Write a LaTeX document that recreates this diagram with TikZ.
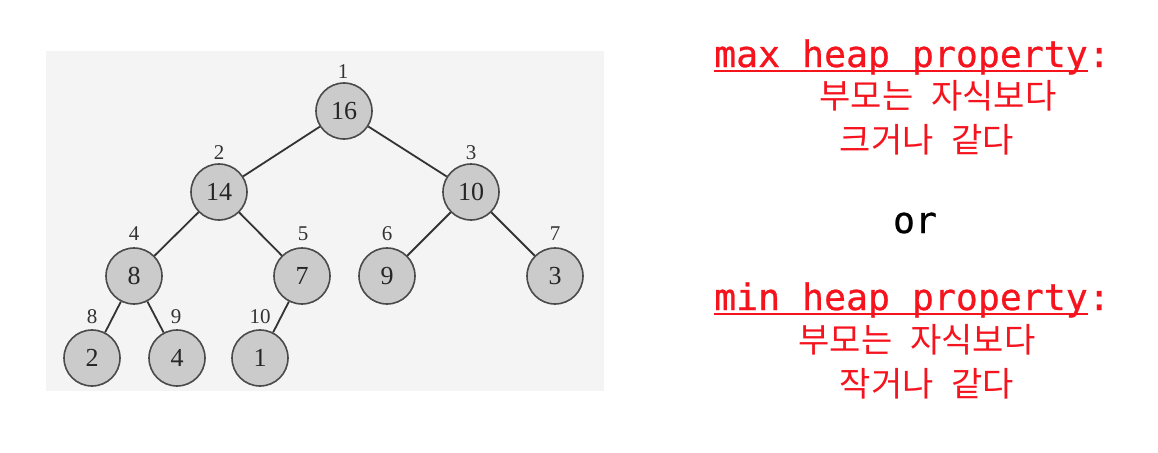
\documentclass[tikz,border=0pt]{standalone}
\usepackage{fontspec}
\setmainfont{Liberation Serif}
\newfontfamily\monof[FakeBold=0.7]{DejaVu Sans Mono}
\newfontfamily\krf{Noto Sans CJK KR}
\definecolor{panelbg}{HTML}{F4F4F4}
\definecolor{nodefill}{HTML}{CBCBCB}
\definecolor{nodeedge}{HTML}{4A4A4A}
\definecolor{edgecol}{HTML}{333333}
\definecolor{txtred}{HTML}{F5141E}
\begin{document}
\begin{tikzpicture}[x=1pt,y=-1pt,
  heapnode/.style={circle,draw=nodeedge,line width=1.6pt,fill=nodefill,minimum size=56pt,inner sep=0pt,font=\fontsize{26}{26}\selectfont,text=black!85},
  idx/.style={font=\fontsize{21}{21}\selectfont,text=black!80,inner sep=0pt},
  link/.style={draw=edgecol,line width=1.8pt},
  redtxt/.style={text=txtred,inner sep=0pt,anchor=base},
  monotxt/.style={redtxt,font=\fontsize{36.5}{36.5}\monof},
  krtxt/.style={redtxt,font=\fontsize{34}{34}\krf},
  uline/.style={draw=txtred,line width=1.8pt}]
\useasboundingbox (0,0) rectangle (1158,452);
\fill[panelbg] (46,51) rectangle (604,391);
% nodes
\node[heapnode] (n1) at (344,111) {16};
\node[heapnode] (n2) at (219,192) {14};
\node[heapnode] (n3) at (471,192) {10};
\node[heapnode] (n4) at (134,276) {8};
\node[heapnode] (n5) at (302,276) {7};
\node[heapnode] (n6) at (387,276) {9};
\node[heapnode] (n7) at (555,276) {3};
\node[heapnode] (n8) at (92,358) {2};
\node[heapnode] (n9) at (177,358) {4};
\node[heapnode] (n10) at (260,358) {1};
% indices
\node[idx] (i1) at (343,72) {1};
\node[idx] (i2) at (219,153) {2};
\node[idx] (i3) at (471,153) {3};
\node[idx] (i4) at (134,234) {4};
\node[idx] (i5) at (303,234) {5};
\node[idx] (i6) at (387,234) {6};
\node[idx] (i7) at (555,234) {7};
\node[idx] (i8) at (92,317) {8};
\node[idx] (i9) at (176,317) {9};
\node[idx] (i10) at (260,317) {10};
% edges
\draw[link] (n1) -- (n2);
\draw[link] (n1) -- (n3);
\draw[link] (n2) -- (n4);
\draw[link] (n2) -- (n5);
\draw[link] (n3) -- (n6);
\draw[link] (n3) -- (n7);
\draw[link] (n4) -- (n8);
\draw[link] (n4) -- (n9);
\draw[link] (n5) -- (n10);
% right text
\node[monotxt,anchor=base west] (maxt) at (714,67) {max heap property};
\node[monotxt,anchor=base west] (maxc) at (maxt.base east) {:};
\draw[uline] ([yshift=-4pt]maxt.base west) -- ([yshift=-4pt]maxt.base east);
\node[krtxt] (k1) at (938,108) {부모는\hspace{18pt}자식보다};
\node[krtxt] (k2) at (927,152) {크거나\hspace{18pt}같다};
\node[redtxt,text=black,font=\fontsize{36.5}{36.5}\monof] (ort) at (915,233) {or};
\node[monotxt,anchor=base west] (mint) at (714,310) {min heap property};
\node[monotxt,anchor=base west] (minc) at (mint.base east) {:};
\draw[uline] ([yshift=-4pt]mint.base west) -- ([yshift=-4pt]mint.base east);
\node[krtxt] (k3) at (917,352) {부모는\hspace{18pt}자식보다};
\node[krtxt] (k4) at (927,396) {작거나\hspace{18pt}같다};
\end{tikzpicture}
\end{document}
